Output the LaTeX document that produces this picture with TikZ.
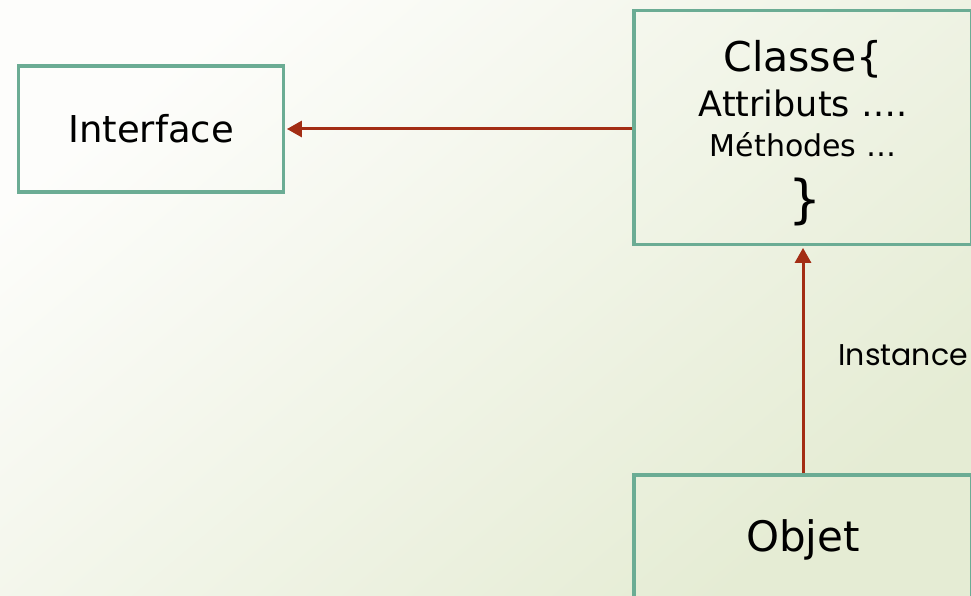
\documentclass[tikz,border=0pt]{standalone}
\usepackage{fontspec}
\setmainfont{DejaVu Sans}
\newfontfamily\labelfont{Poppins}
\usetikzlibrary{arrows.meta,positioning}
\definecolor{boxgreen}{RGB}{107,172,148}
\definecolor{linkred}{RGB}{163,45,20}
\definecolor{bglight}{RGB}{253,253,251}
\definecolor{bggreen}{RGB}{229,236,212}

\begin{document}
\begin{tikzpicture}[x=1pt,y=-1pt,
box/.style = {draw=boxgreen, line width=3.4pt, inner sep=0pt},
link/.style = {draw=linkred, line width=3pt, shorten >=1.7pt, -{Triangle[length=15pt,width=16pt]}},
line/.style = {inner sep=0pt, anchor=base}]
\useasboundingbox (0,0) rectangle (971,596);
\shade[top color=bglight, bottom color=bggreen, shading angle=40] (0,0) rectangle (971,596);

\node[box, minimum width=265pt, minimum height=126pt, font=\fontsize{37}{44}\selectfont] (iface) at (151,129) {Interface};
\node[box, minimum width=338pt, minimum height=234pt] (classe) at (803,127.5) {};
\node[box, minimum width=338pt, minimum height=129pt, font=\fontsize{42}{50}\selectfont] (objet) at (803,539.5) {Objet};

\node[line, font=\fontsize{41}{48}\selectfont] (chead) at (803,72) {Classe\{};
\node[line, font=\fontsize{35}{42}\selectfont] (cattr) at (803,117) {Attributs ….};
\node[line, font=\fontsize{30}{36}\selectfont] (cmeth) at (803,157) {Méthodes …};
\node[line, font=\fontsize{52}{60}\selectfont] (cend) at (805,218) {\}};

\draw[link] (iface.east -| classe.west) -- (iface.east);
\draw[link] (objet.north) -- (classe.south)
    node[pos=0.52, right=34pt, inner sep=0pt, font=\labelfont\fontsize{30}{36}\selectfont] (inst) {Instance};
\end{tikzpicture}
\end{document}
